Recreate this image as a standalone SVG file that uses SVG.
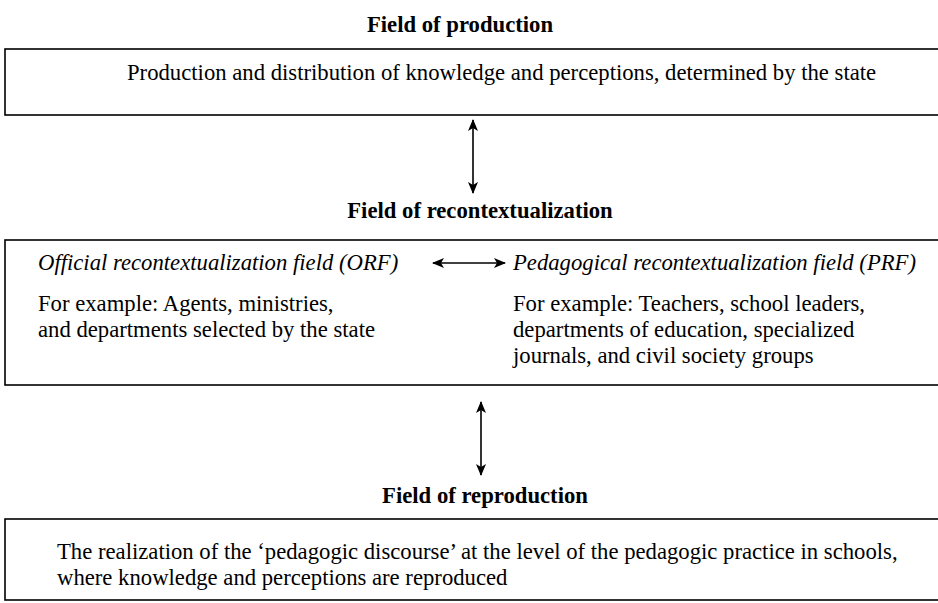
<svg xmlns="http://www.w3.org/2000/svg" width="938" height="603" viewBox="0 0 938 603">
<style>
text{font-family:"Liberation Serif","Times New Roman",serif;font-size:22.7px;fill:#000}
.t{font-weight:bold;text-anchor:middle}
.i{font-style:italic}
.box{fill:#fff;stroke:#000;stroke-width:1.6}
.c{stroke:#000;stroke-width:1.6;fill:none}
</style>
<defs>
<marker id="ah" viewBox="0 0 12 10" refX="11" refY="5" markerWidth="12" markerHeight="10" markerUnits="userSpaceOnUse" orient="auto-start-reverse">
<path d="M0,0 L12,5 L0,10 L3,5 Z" fill="#000"/>
</marker>
</defs>
<rect width="938" height="603" fill="#fff"/>
<g id="production">
<text class="t" x="460" y="32">Field of production</text>
<rect class="box" x="5" y="49" width="940" height="66"/>
<text x="127" y="80">Production and distribution of knowledge and perceptions, determined by the state</text>
</g>
<g id="recontextualization">
<text class="t" x="480" y="218">Field of recontextualization</text>
<rect class="box" x="5" y="240" width="940" height="145"/>
<text class="i" x="38" y="270">Official recontextualization field (ORF)</text>
<text x="38" y="311">For example: Agents, ministries,</text>
<text x="38" y="337">and departments selected by the state</text>
<text class="i" x="513" y="270">Pedagogical recontextualization field (PRF)</text>
<text x="513" y="311">For example: Teachers, school leaders,</text>
<text x="513" y="337">departments of education, specialized</text>
<text x="513" y="363">journals, and civil society groups</text>
</g>
<g id="reproduction">
<text class="t" x="485" y="503">Field of reproduction</text>
<rect class="box" x="5" y="519" width="940" height="81"/>
<text x="57" y="559">The realization of the ‘pedagogic discourse’ at the level of the pedagogic practice in schools,</text>
<text x="57" y="585">where knowledge and perceptions are reproduced</text>
</g>
<g id="connectors">
<line class="c" x1="473" y1="120" x2="473" y2="193" marker-start="url(#ah)" marker-end="url(#ah)"/>
<line class="c" x1="433" y1="263" x2="505" y2="263" marker-start="url(#ah)" marker-end="url(#ah)"/>
<line class="c" x1="481" y1="402" x2="481" y2="475" marker-start="url(#ah)" marker-end="url(#ah)"/>
</g>
</svg>
